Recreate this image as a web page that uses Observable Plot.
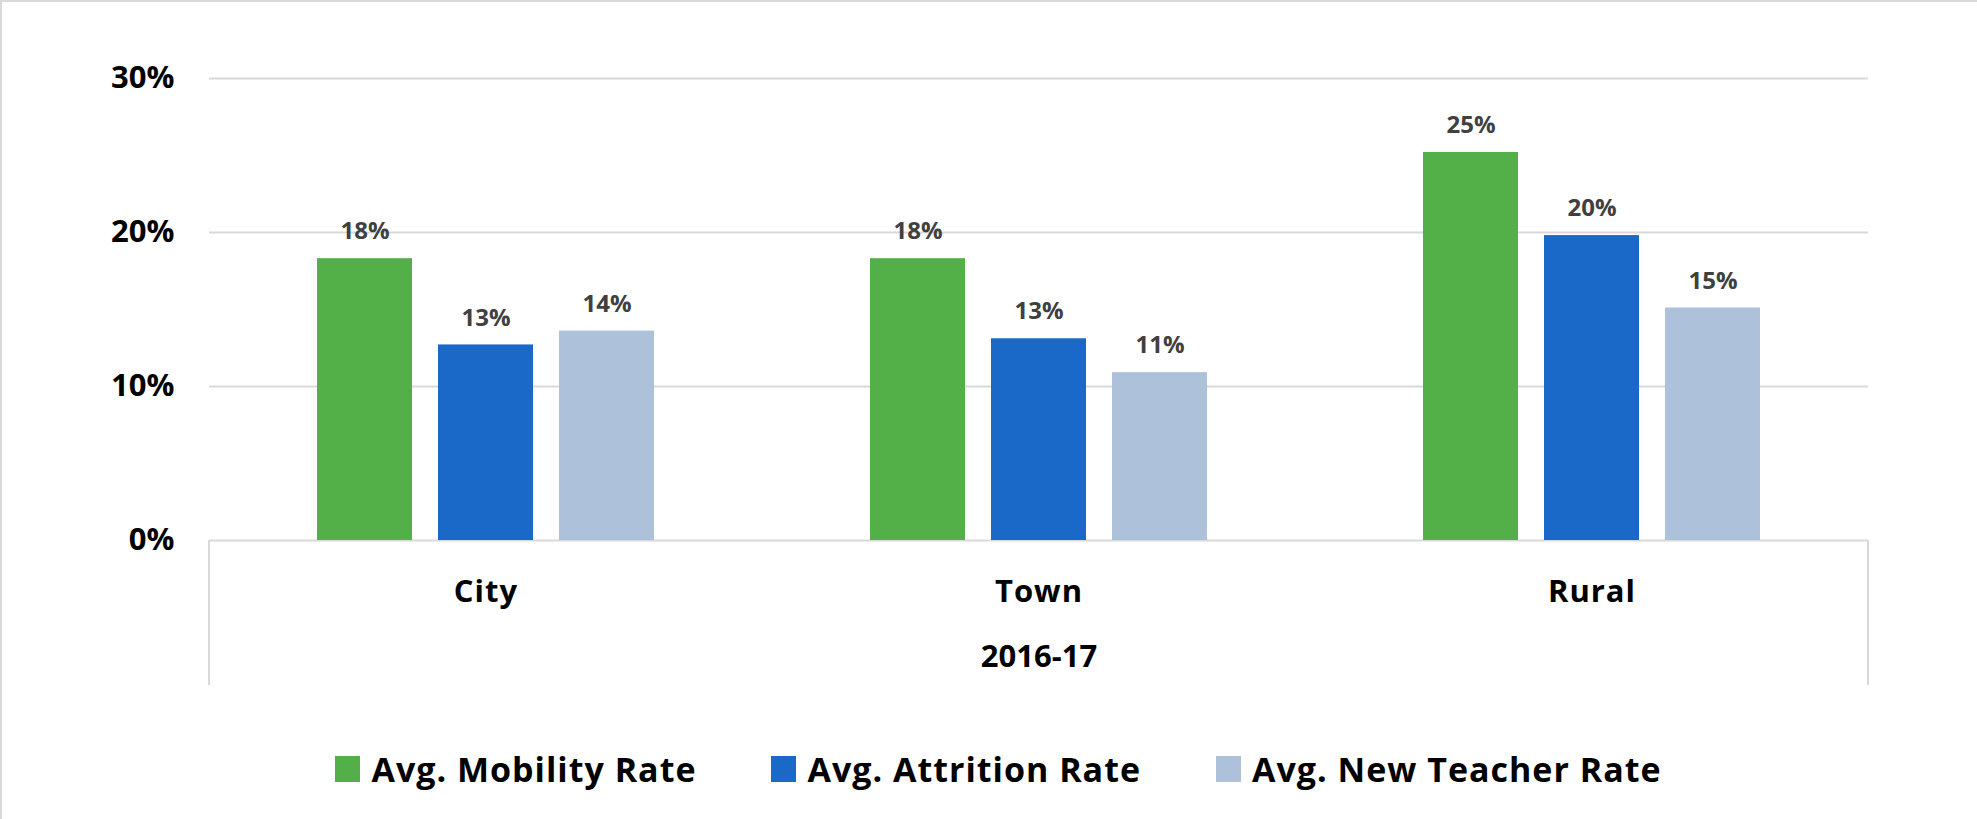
<!DOCTYPE html>
<html><head><meta charset="utf-8">
<script src="https://cdn.jsdelivr.net/npm/d3@7"></script>
<script src="https://cdn.jsdelivr.net/npm/@observablehq/plot@0.6"></script>
<style>
html,body{margin:0;padding:0;background:#fff;}
#wrap{width:1975px;height:817px;border-top:2px solid #d9d9d9;border-left:2px solid #d9d9d9;font-family:"Open Sans",sans-serif;overflow:hidden;background:#fff;}
#chart svg{display:block;}
#legend{display:flex;justify-content:center;align-items:center;gap:75px;margin-top:64px;height:40px;padding-left:18px;}
.item{display:flex;align-items:center;gap:11px;font-size:34px;font-weight:700;color:#000;line-height:40px;letter-spacing:1px;}
.sw{width:25px;height:26px;display:inline-block;}
</style></head><body><div id="wrap"><div id="chart"></div><div id="legend"></div></div>
<script>
const categories = ["City", "Town", "Rural"];
const series = ["Avg. Mobility Rate", "Avg. Attrition Rate", "Avg. New Teacher Rate"];
const colors = ["#53AF47", "#1A69C8", "#ADC2DA"];
const mobility = [0.183, 0.183, 0.252];
const attrition = [0.127, 0.131, 0.198];
const newTeacher = [0.136, 0.109, 0.151];
const yTicks = [0, 0.1, 0.2, 0.3];
const groupLabel = "2016-17";

const seriesValues = [mobility, attrition, newTeacher];
const data = [];
categories.forEach((c, i) => series.forEach((s, j) => data.push({category: c, series: s, value: seriesValues[j][i]})));

const W = 1975, H = 683;
const chart = Plot.plot({
  width: W, height: H,
  marginTop: 76, marginBottom: 145, marginLeft: 206, marginRight: 109,
  style: {fontFamily: "'Open Sans', sans-serif", background: "#fff", overflow: "visible"},
  fx: {domain: categories, padding: 0},
  x: {domain: series, paddingInner: 0.213, paddingOuter: 0.874, axis: null},
  y: {domain: [0, 0.3]},
  color: {domain: series, range: colors},
  marks: [
    Plot.gridY(yTicks.filter(d => d > 0), {stroke: "#d9d9d9", strokeOpacity: 1, strokeWidth: 2}),
    Plot.ruleY([0], {stroke: "#d9d9d9", strokeWidth: 2}),
    Plot.barY(data, {fx: "category", x: "series", y: "value", fill: "series"}),
    Plot.text(data, {fx: "category", x: "series", y: "value", text: d => Math.round(d.value * 100) + "%", dy: -27, fill: "#404040", fontSize: 24, fontWeight: "bold"}),
    Plot.axisY({ticks: yTicks, tickFormat: d => Math.round(d * 100) + "%", tickSize: 0, tickPadding: 35, fontSize: 31, fontWeight: "bold", label: null, color: "#000"}),
    Plot.axisFx({anchor: "bottom", tickSize: 0, tickPadding: 39, fontSize: 31, fontWeight: "bold", label: groupLabel, labelAnchor: "center", labelArrow: "none", labelOffset: 126, color: "#000"})
  ]
});
document.getElementById("chart").appendChild(chart);
d3.select(chart).selectAll("[aria-label='fx-axis tick label'] text").style("letter-spacing", "1px");

// category-axis divider lines at outer edges, using the plot's own scales
const fx = chart.scale("fx"), y = chart.scale("y");
const left = fx.apply(categories[0]);
const right = fx.apply(categories[categories.length - 1]) + fx.bandwidth;
const y0 = y.apply(0);
const svg = d3.select(chart);
[left, right].forEach(xx => svg.append("line").attr("x1", xx).attr("x2", xx).attr("y1", y0).attr("y2", H).attr("stroke", "#d9d9d9").attr("stroke-width", 2));

const legend = d3.select("#legend");
series.forEach((s, i) => {
  const it = legend.append("div").attr("class", "item");
  it.append("span").attr("class", "sw").style("background", colors[i]);
  it.append("span").text(s);
});
</script></body></html>
